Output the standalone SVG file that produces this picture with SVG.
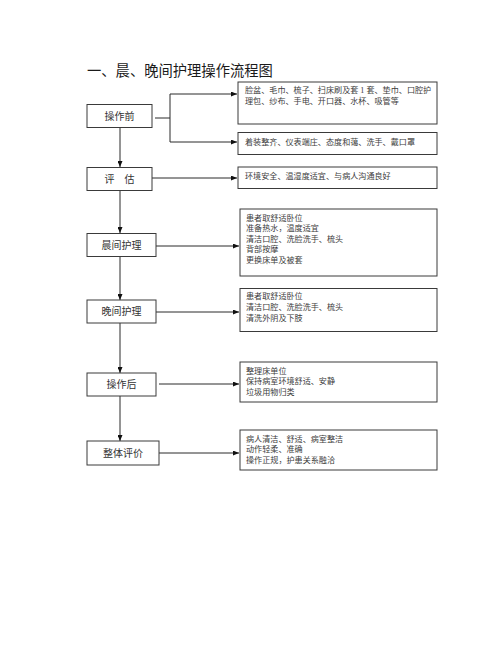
<svg xmlns="http://www.w3.org/2000/svg" width="500" height="653" viewBox="0 0 500 653">
<style>
.bg{fill:#ffffff}
.box{fill:#ffffff;stroke:#3a3a3a;stroke-width:1}
.ln{fill:none;stroke:#2a2a2a;stroke-width:1}
.t{font-family:"Liberation Serif","Noto Sans CJK SC",serif;fill:#333333}
.lt{font-size:10px;text-anchor:middle}
.rt{font-size:8.1px;fill:#3c3c3c}
.title{font-size:14.3px;fill:#1a1a1a}
</style>
<defs>
<marker id="ah" markerUnits="userSpaceOnUse" markerWidth="6" markerHeight="5" refX="6" refY="2.5" orient="auto">
<path d="M0,0 L6,2.5 L0,5 Z" fill="#111111"/>
</marker>
</defs>
<rect class="bg" x="0" y="0" width="500" height="653"/>
<text class="t title" x="87" y="75.5">一、晨、晚间护理操作流程图</text>

<g id="connectors">
<path class="ln" d="M155,118 H170"/>
<path class="ln" d="M170,94 V142"/>
<path class="ln" d="M170,94 H237" marker-end="url(#ah)"/>
<path class="ln" d="M170,142 H237" marker-end="url(#ah)"/>
<path class="ln" d="M120,127 V167" marker-end="url(#ah)"/>
<path class="ln" d="M152,178 H237" marker-end="url(#ah)"/>
<path class="ln" d="M120,190 V233" marker-end="url(#ah)"/>
<path class="ln" d="M156,246 H239" marker-end="url(#ah)"/>
<path class="ln" d="M120,256 V300" marker-end="url(#ah)"/>
<path class="ln" d="M156,312 H239" marker-end="url(#ah)"/>
<path class="ln" d="M120,323 V373" marker-end="url(#ah)"/>
<path class="ln" d="M159,384 H239" marker-end="url(#ah)"/>
<path class="ln" d="M120,396 V441" marker-end="url(#ah)"/>
<path class="ln" d="M159,453 H239" marker-end="url(#ah)"/>
</g>

<g id="n-before">
<rect class="box" x="87" y="104.5" width="65" height="23"/>
<text class="t lt" x="119.5" y="119.8">操作前</text>
</g>
<g id="n-items">
<rect class="box" x="238" y="82" width="199" height="42"/>
<text class="t rt" x="245" y="93">脸盆、毛巾、梳子、扫床刷及套 1 套、垫巾、口腔护</text>
<text class="t rt" x="245" y="103.7">理包、纱布、手电、开口器、水杯、吸管等</text>
</g>
<g id="n-dress">
<rect class="box" x="238" y="132.5" width="199" height="22"/>
<text class="t rt" x="245" y="144.7">着装整齐、仪表端庄、态度和蔼、洗手、戴口罩</text>
</g>
<g id="n-assess">
<rect class="box" x="87" y="167.5" width="65" height="23"/>
<text class="t lt" x="119.5" y="182.8">评　估</text>
</g>
<g id="n-env">
<rect class="box" x="238" y="167" width="199" height="21.5"/>
<text class="t rt" x="245" y="178.5">环境安全、温湿度适宜、与病人沟通良好</text>
</g>
<g id="n-morning">
<rect class="box" x="87" y="233.5" width="69" height="23"/>
<text class="t lt" x="121.5" y="248.8">晨间护理</text>
</g>
<g id="n-morning-d">
<rect class="box" x="240" y="209" width="197" height="67"/>
<text class="t rt" x="246" y="220.7">患者取舒适卧位</text>
<text class="t rt" x="246" y="231.3">准备热水，温度适宜</text>
<text class="t rt" x="246" y="241.7">清洁口腔、洗脸洗手、梳头</text>
<text class="t rt" x="246" y="252.3">背部按摩</text>
<text class="t rt" x="246" y="263">更换床单及被套</text>
</g>
<g id="n-evening">
<rect class="box" x="87" y="300" width="69" height="23"/>
<text class="t lt" x="121.5" y="315.3">晚间护理</text>
</g>
<g id="n-evening-d">
<rect class="box" x="240" y="288.5" width="197" height="43"/>
<text class="t rt" x="246" y="299">患者取舒适卧位</text>
<text class="t rt" x="246" y="310">清洁口腔、洗脸洗手、梳头</text>
<text class="t rt" x="246" y="320.7">清洗外阴及下肢</text>
</g>
<g id="n-after">
<rect class="box" x="87" y="373" width="69" height="23"/>
<text class="t lt" x="121.5" y="388.3">操作后</text>
</g>
<g id="n-after-d">
<rect class="box" x="240" y="362" width="197" height="40"/>
<text class="t rt" x="246" y="373.7">整理床单位</text>
<text class="t rt" x="246" y="384">保持病室环境舒适、安静</text>
<text class="t rt" x="246" y="394.7">垃圾用物归类</text>
</g>
<g id="n-eval">
<rect class="box" x="87" y="441" width="72" height="24"/>
<text class="t lt" x="123" y="456.8">整体评价</text>
</g>
<g id="n-eval-d">
<rect class="box" x="240" y="430" width="197" height="40"/>
<text class="t rt" x="246" y="442">病人清洁、舒适、病室整洁</text>
<text class="t rt" x="246" y="452.3">动作轻柔、准确</text>
<text class="t rt" x="246" y="463">操作正规，护患关系融洽</text>
</g>
</svg>
